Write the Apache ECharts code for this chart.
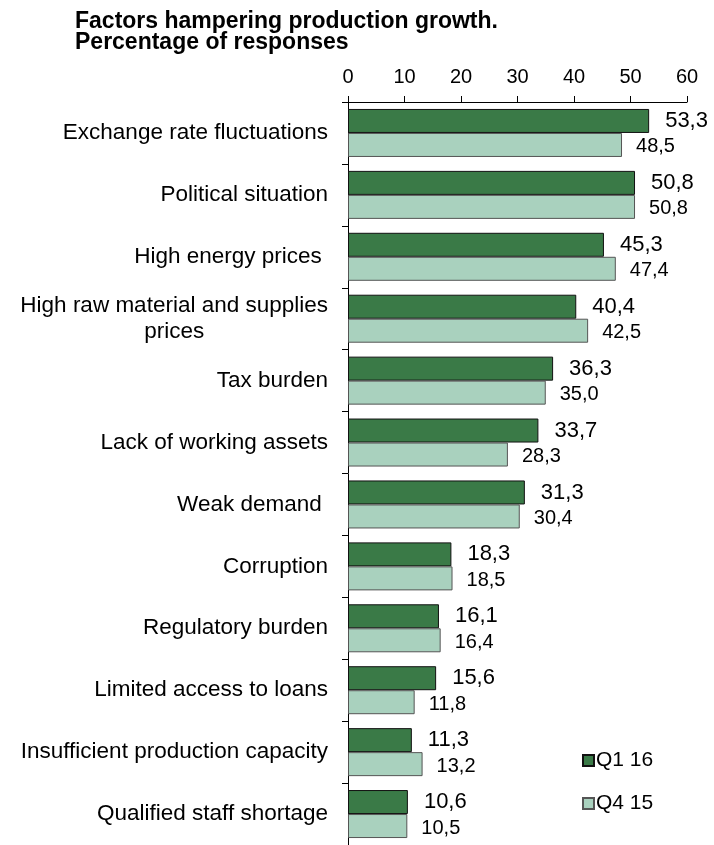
<!DOCTYPE html>
<html>
<head>
<meta charset="utf-8">
<title>Factors hampering production growth</title>
<script src="https://cdn.jsdelivr.net/npm/echarts@6.0.0/dist/echarts.min.js"></script>
<style>
  html, body { margin: 0; padding: 0; background: #fff; }
  #chart { width: 714px; height: 845px; }
</style>
</head>
<body>
<div id="chart"></div>
<script>
// categories, top to bottom
const categories = [
    'Exchange rate fluctuations',
    'Political situation',
    'High energy prices ',
    'High raw material and supplies\nprices',
    'Tax burden',
    'Lack of working assets',
    'Weak demand ',
    'Corruption',
    'Regulatory burden',
    'Limited access to loans',
    'Insufficient production capacity',
    'Qualified staff shortage'
];

// % of responses
const q1_16 = [53.3, 50.8, 45.3, 40.4, 36.3, 33.7, 31.3, 18.3, 16.1, 15.6, 11.3, 10.6];
const q4_15 = [48.5, 50.8, 47.4, 42.5, 35.0, 28.3, 30.4, 18.5, 16.4, 11.8, 13.2, 10.5];

const xTicks = [0, 10, 20, 30, 40, 50, 60];

const FONT = '"Liberation Sans", Arial, sans-serif';

function fmtComma(p) {
    return p.value.toFixed(1).replace('.', ',');
}

const chart = echarts.init(document.getElementById('chart'));

const option = {
    animation: false,
    backgroundColor: '#fff',
    textStyle: { fontFamily: FONT, color: '#000' },
    title: {
        text: 'Factors hampering production growth.\nPercentage of responses',
        left: 75,
        top: 11,
        padding: 0,
        textStyle: {
            fontFamily: FONT,
            fontSize: 23,
            fontWeight: 'bold',
            lineHeight: 21,
            color: '#000'
        }
    },
    legend: {
        orient: 'vertical',
        left: 577,
        top: 745,
        itemWidth: 11,
        itemHeight: 11,
        itemGap: 22,
        icon: 'rect',
        data: ['Q1 16', 'Q4 15'],
        textStyle: { fontFamily: FONT, fontSize: 21, color: '#000', padding: [0, 0, 0, -3] }
    },
    grid: {
        left: 348,
        right: 27,
        top: 102,
        height: 744
    },
    xAxis: {
        type: 'value',
        position: 'top',
        min: xTicks[0],
        max: xTicks[xTicks.length - 1],
        interval: 10,
        axisLine: { show: true, lineStyle: { color: '#000', width: 1 } },
        axisTick: { show: true, length: 6, lineStyle: { color: '#000' } },
        splitLine: { show: false },
        axisLabel: { fontFamily: FONT, fontSize: 20, color: '#000', margin: 15 }
    },
    yAxis: {
        type: 'category',
        inverse: true,
        data: categories,
        axisLine: { show: true, lineStyle: { color: '#000', width: 1 } },
        axisTick: { show: true, length: 6, lineStyle: { color: '#000' } },
        axisLabel: {
            margin: 20,
            fontFamily: FONT,
            fontSize: 22.5,
            color: '#000',
            lineHeight: 26,
            formatter: function (v) {
                return v.split('\n').map(s => '{c|' + s + '}').join('\n');
            },
            rich: {
                c: { fontFamily: FONT, fontSize: 22.5, color: '#000', align: 'center', lineHeight: 26 }
            }
        }
    },
    series: [
        {
            name: 'Q1 16',
            type: 'bar',
            data: q1_16,
            barWidth: 24,
            barGap: '0%',
            itemStyle: { color: '#3a7a47', borderColor: '#111', borderWidth: 1 },
            label: {
                show: true,
                position: 'right',
                distance: 16,
                offset: [0, 0],
                fontFamily: FONT,
                fontSize: 22,
                color: '#000',
                formatter: fmtComma
            }
        },
        {
            name: 'Q4 15',
            type: 'bar',
            data: q4_15,
            barWidth: 24,
            barGap: '0%',
            itemStyle: { color: '#a9d1be', borderColor: '#555', borderWidth: 1 },
            label: {
                show: true,
                position: 'right',
                distance: 14,
                offset: [0, 2],
                fontFamily: FONT,
                fontSize: 20,
                color: '#000',
                formatter: fmtComma
            }
        }
    ]
};

chart.setOption(option);
window.addEventListener('resize', function () { chart.resize(); });
</script>
</body>
</html>
